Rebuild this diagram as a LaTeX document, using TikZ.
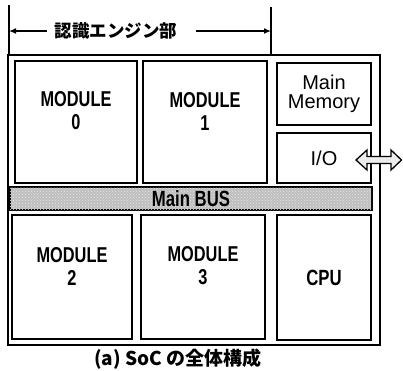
\documentclass[tikz,border=0pt]{standalone}
\usepackage{fontspec}
\setmainfont{Liberation Sans}
\newfontfamily\condfont[FakeStretch=0.76]{Liberation Sans}
\newfontfamily\jpfont{Noto Sans CJK JP}
\usetikzlibrary{
    arrows.meta,
    patterns
}

\tikzset{
    block/.style={draw, line width=1.8pt, inner sep=0pt, align=center},
    modtext/.style={align=center, inner sep=0pt, font=\condfont\bfseries\fontsize{21.5}{23}\selectfont}
}

\begin{document}
\begin{tikzpicture}[x=1pt, y=-1pt]
\useasboundingbox (0,0) rectangle (403,370);

% Frame of the SoC
\node[block, minimum width=372pt, minimum height=290pt] (soc) at (194,200) {};

% Engine span
\coordinate (tickL) at (9,5);
\coordinate (tickR) at (271,7);
\draw[line width=1.6pt] (tickL) -- (tickL |- soc.north);
\draw[line width=1.6pt] (tickR) -- (tickR |- soc.north);
\node[font=\jpfont\bfseries\fontsize{17.5}{18}\selectfont, inner sep=0pt] (engine) at (116,31) {認識エンジン部};
\draw[line width=1.5pt, -{Latex[length=7pt, width=6pt]}] ([xshift=-8pt]engine.west) -- (tickL |- engine.west);
\draw[line width=1.5pt, -{Latex[length=7pt, width=6pt]}] ([xshift=19pt]engine.east) -- (tickR |- engine.east);

% Modules
\node[block, minimum width=122pt, minimum height=122pt] (m0) at (76,122) {};
\node[modtext] (m0t) at ([yshift=11pt]m0.center) {MODULE\\0};
\node[block, minimum width=124pt, minimum height=122pt] (m1) at (205,122) {};
\node[modtext] (m1t) at ([yshift=11pt]m1.center) {MODULE\\1};
\node[block, minimum width=120pt, minimum height=124pt] (m2) at (72,277) {};
\node[modtext] (m2t) at ([yshift=11pt]m2.center) {MODULE\\2};
\node[block, minimum width=124pt, minimum height=124pt] (m3) at (203,277) {};
\node[modtext] (m3t) at ([yshift=11pt]m3.center) {MODULE\\3};

% Memory, I/O, CPU
\node[block, minimum width=94pt, minimum height=62pt, font=\fontsize{20}{19}\selectfont] (mem) at (324,94) {Main\\Memory};
\node[block, minimum width=94pt, minimum height=50pt, font=\fontsize{20}{19}\selectfont] (io) at (324,158) {I/O};
\node[block, minimum width=94pt, minimum height=125pt, font=\condfont\bfseries\fontsize{22}{22}\selectfont] (cpu) at (324,277.5) {CPU};

% Bus
\node[draw, line width=1.3pt, minimum width=362pt, minimum height=23pt, inner sep=0pt,
      fill=gray!50, postaction={pattern=crosshatch dots, pattern color=gray!20},
      font=\condfont\bfseries\fontsize{22}{22}\selectfont] (bus) at (191,198.5) {Main BUS};

% I/O port
\draw[line width=1.3pt, fill=gray!15]
    (356,160) -- (367,150) -- (367,156.5) -- (391,156.5) -- (391,150) -- (401.5,160)
    -- (391,170) -- (391,163.5) -- (367,163.5) -- (367,170) -- cycle;

% Caption
\node[font=\jpfont\bfseries\fontsize{19}{19}\selectfont, inner sep=0pt] (cap) at (178,359) {(a) SoC の全体構成};

\end{tikzpicture}
\end{document}
